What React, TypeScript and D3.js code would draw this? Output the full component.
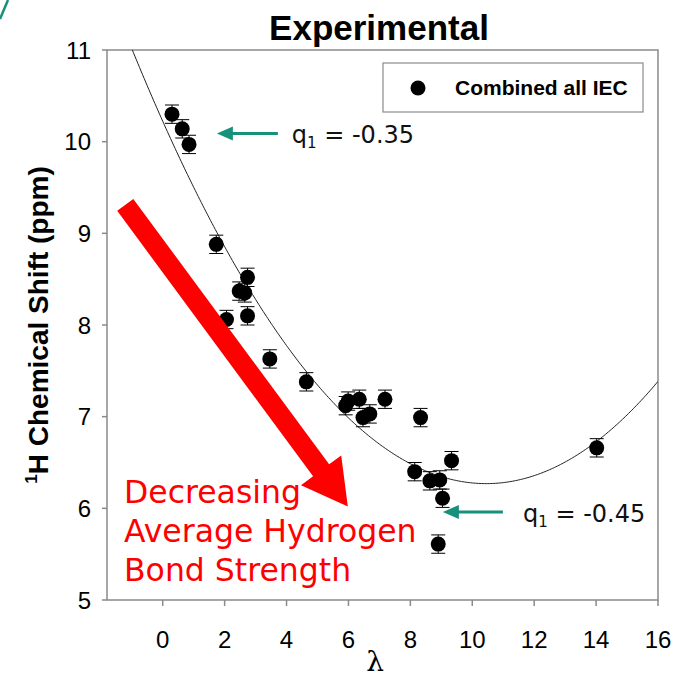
import React from "react";
import * as d3 from "d3";

// ---- data ----
const lambdaValues = [0.3, 0.63, 0.85, 1.73, 2.74, 2.47, 2.65, 2.06, 2.74, 3.46, 4.64, 5.91, 5.99, 6.35, 6.47, 6.69, 7.18, 8.33, 8.14, 8.63, 8.95, 9.04, 9.33, 8.9, 14.02];
const shiftValues = [10.3, 10.14, 9.97, 8.88, 8.52, 8.37, 8.35, 8.06, 8.1, 7.63, 7.38, 7.12, 7.17, 7.19, 6.99, 7.03, 7.19, 6.99, 6.4, 6.3, 6.31, 6.11, 6.52, 5.61, 6.66];
const shiftErrors = [0.1, 0.1, 0.1, 0.1, 0.1, 0.1, 0.1, 0.1, 0.1, 0.1, 0.1, 0.1, 0.1, 0.1, 0.1, 0.1, 0.1, 0.1, 0.1, 0.1, 0.1, 0.1, 0.1, 0.1, 0.1];
const xTicks = [0, 2, 4, 6, 8, 10, 12, 14, 16];
const yTicks = [5, 6, 7, 8, 9, 10, 11];
const xDomain = [-1.8, 16];
const yDomain = [5, 11];
// quadratic fit: c0 + c1*x + c2*x^2
const fitCoeffs = [10.223, -0.7566, 0.0362];

// annotations (data coordinates)
const greenArrows = [
  { x1: 3.72, x2: 1.75, y: 10.09, tx: 4.17, label: "-0.35" },
  { x1: 10.99, x2: 9.05, y: 5.96, tx: 11.64, label: "-0.45" },
];
const redArrow = { x1: -1.21, y1: 9.31, x2: 5.98, y2: 6.02 };
const redLines = ["Decreasing", "Average Hydrogen", "Bond Strength"];

const W = 674;
const H = 690;
const plot = { left: 107, right: 658, top: 50, bottom: 600 };

export default function App() {
  const x = d3.scaleLinear().domain(xDomain).range([plot.left, plot.right]);
  const y = d3.scaleLinear().domain(yDomain).range([plot.bottom, plot.top]);

  const fit = (v: number) => fitCoeffs[0] + fitCoeffs[1] * v + fitCoeffs[2] * v * v;
  const xs = d3.range(xDomain[0], xDomain[1] + 0.001, 0.05);
  const line = d3
    .line<number>()
    .x((d) => x(d))
    .y((d) => y(fit(d)));

  // red arrow polygon
  const ax1 = x(redArrow.x1), ay1 = y(redArrow.y1), ax2 = x(redArrow.x2), ay2 = y(redArrow.y2);
  const len = Math.hypot(ax2 - ax1, ay2 - ay1);
  const ux = (ax2 - ax1) / len, uy = (ay2 - ay1) / len;
  const px = -uy, py = ux;
  const sw = 10, hw = 25, hl = 45;
  const bx = ax2 - ux * hl, by = ay2 - uy * hl;
  const pts = [
    [ax1 + px * sw, ay1 + py * sw],
    [bx + px * sw, by + py * sw],
    [bx + px * hw, by + py * hw],
    [ax2, ay2],
    [bx - px * hw, by - py * hw],
    [bx - px * sw, by - py * sw],
    [ax1 - px * sw, ay1 - py * sw],
  ];
  const teal = "#17907c";
  const sans = "'Liberation Sans', Arial, sans-serif";
  const humanist = "'DejaVu Sans', Verdana, sans-serif";

  return (
    <div style={{ position: "absolute", left: 0, top: 0 }}>
      <svg width={W} height={H} style={{ display: "block", background: "#fff" }}>
        <defs>
          <clipPath id="plotClip">
            <rect x={plot.left} y={plot.top} width={plot.right - plot.left} height={plot.bottom - plot.top} />
          </clipPath>
        </defs>
        {/* corner decoration */}
        <path d="M0,19 L8,0" stroke={teal} strokeWidth={2.5} fill="none" />

        {/* title */}
        <text x={379} y={40} textAnchor="middle" fontFamily={sans} fontWeight="bold" fontSize={35}>
          Experimental
        </text>

        {/* frame */}
        <rect x={plot.left} y={plot.top} width={plot.right - plot.left} height={plot.bottom - plot.top} fill="none" stroke="#8a8a8a" strokeWidth={1.5} />

        {/* y ticks */}
        {yTicks.map((t) => (
          <g key={"y" + t}>
            <line x1={plot.left - 5} x2={plot.left} y1={y(t)} y2={y(t)} stroke="#8a8a8a" strokeWidth={1.5} />
            <text x={91} y={y(t) + 8.5} textAnchor="end" fontFamily={sans} fontSize={24}>
              {t}
            </text>
          </g>
        ))}
        {/* x ticks */}
        {xTicks.map((t) => (
          <g key={"x" + t}>
            <line x1={x(t)} x2={x(t)} y1={plot.bottom} y2={plot.bottom + 6} stroke="#8a8a8a" strokeWidth={1.5} />
            <text x={x(t)} y={648} textAnchor="middle" fontFamily={sans} fontSize={24}>
              {t}
            </text>
          </g>
        ))}

        {/* axis titles */}
        <text x={375} y={671} textAnchor="middle" fontFamily="'DejaVu Serif', 'Liberation Serif', serif" fontSize={28}>
          λ
        </text>
        <text
          transform={`translate(48, ${(plot.top + plot.bottom) / 2}) rotate(-90)`}
          textAnchor="middle"
          fontFamily={sans}
          fontWeight="bold"
          fontSize={28}
        >
          <tspan fontSize={17} dy={-11}>1</tspan>
          <tspan dy={11}>H Chemical Shift (ppm)</tspan>
        </text>

        {/* fit curve */}
        <g clipPath="url(#plotClip)">
          <path d={line(xs) || ""} fill="none" stroke="#222" strokeWidth={1} />
        </g>

        {/* error bars and points */}
        {lambdaValues.map((lv, i) => {
          const cx = x(lv);
          const cy = y(shiftValues[i]);
          const e1 = y(shiftValues[i] + shiftErrors[i]);
          const e2 = y(shiftValues[i] - shiftErrors[i]);
          return (
            <g key={"p" + i}>
              <line x1={cx} x2={cx} y1={e1} y2={e2} stroke="#000" strokeWidth={1} />
              <line x1={cx - 7} x2={cx + 7} y1={e1} y2={e1} stroke="#000" strokeWidth={1} />
              <line x1={cx - 7} x2={cx + 7} y1={e2} y2={e2} stroke="#000" strokeWidth={1} />
              <circle cx={cx} cy={cy} r={7.5} fill="#000" />
            </g>
          );
        })}

        {/* legend */}
        <rect x={383} y={63} width={260} height={49} fill="#fff" stroke="#8a8a8a" strokeWidth={1.2} />
        <circle cx={418} cy={88} r={7.5} fill="#000" />
        <text x={455} y={95} fontFamily={sans} fontWeight="bold" fontSize={21}>
          Combined all IEC
        </text>

        {/* green arrows */}
        {greenArrows.map((a, i) => {
          const xa = x(a.x1), xb = x(a.x2), ya = y(a.y);
          return (
            <g key={"g" + i}>
              <line x1={xa} x2={xb + 12} y1={ya} y2={ya} stroke={teal} strokeWidth={3} />
              <path d={`M${xb},${ya} L${xb + 16},${ya - 7} L${xb + 16},${ya + 7} Z`} fill={teal} />
              <text x={x(a.tx)} y={ya + 10} fontFamily={humanist} fontSize={24} fill="#111">
                q<tspan fontSize={15} dy={5}>1</tspan>
                <tspan dy={-5}>{" = " + a.label}</tspan>
              </text>
            </g>
          );
        })}

        {/* red arrow */}
        <polygon points={pts.map((p) => p.join(",")).join(" ")} fill="#ff0000" />

        {/* red text */}
        {redLines.map((t, i) => (
          <text key={"r" + i} x={124} y={503 + i * 39} fontFamily={humanist} fontSize={31.5} fill="#ff0000">
            {t}
          </text>
        ))}
      </svg>
    </div>
  );
}
